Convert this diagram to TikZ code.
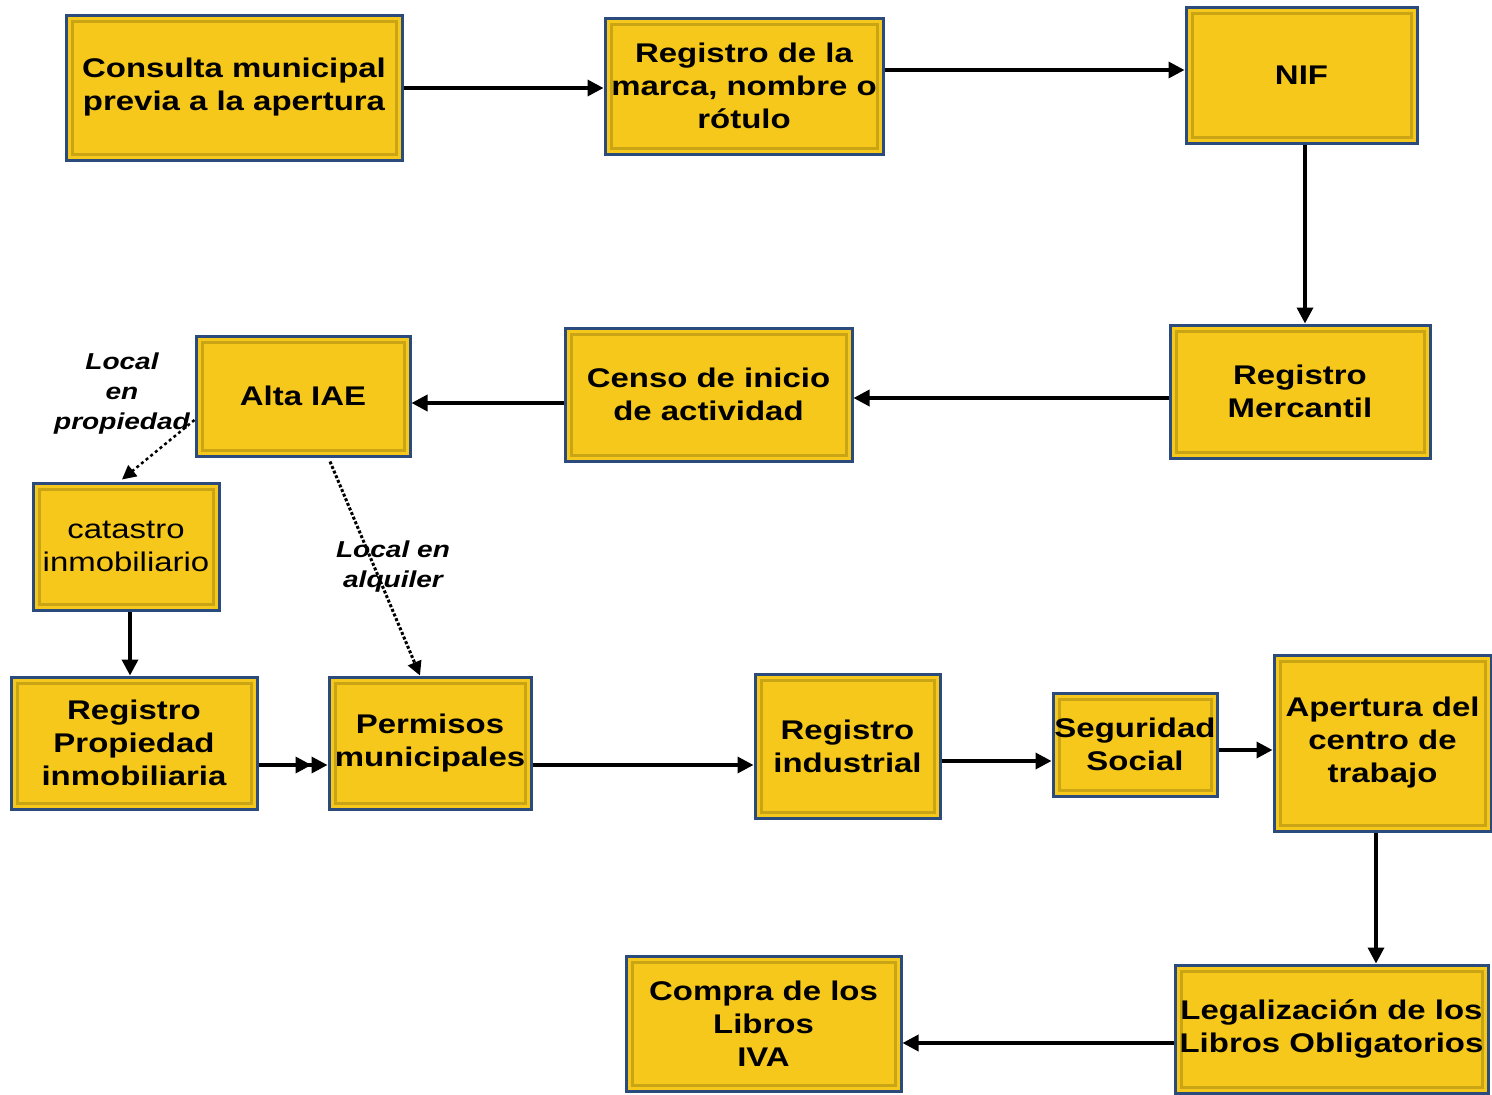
\documentclass[tikz,border=0pt]{standalone}
\usepackage{fontspec}
\setmainfont{Liberation Sans}
\newfontfamily\wideface[FakeStretch=1.22]{Liberation Sans}
\usetikzlibrary{arrows.meta,calc}
\definecolor{boxfill}{HTML}{F6C81C}
\definecolor{boxedge}{HTML}{2B4B7C}
\definecolor{goldedge}{HTML}{C9A414}
\tikzset{
  box/.style={fill=boxfill, draw=boxedge, line width=3pt, align=center,
    font=\wideface\bfseries\fontsize{27}{33}\selectfont, inner sep=0pt,
    path picture={\draw[goldedge, line width=3pt]
      ([shift={(6pt,-6pt)}]path picture bounding box.north west) rectangle
      ([shift={(-6pt,6pt)}]path picture bounding box.south east);}},
  conn/.style={line width=3.5pt, -{Triangle[length=16pt,width=16pt]}},
  dconn/.style={line width=2.5pt, dashed, -{Triangle[length=14pt,width=14pt]}},
  tconn/.style={line width=3pt, dotted, -{Triangle[length=14pt,width=14pt]}},
  lbl/.style={font=\wideface\bfseries\itshape\fontsize{23}{30}\selectfont, align=center}
}
\begin{document}
\begin{tikzpicture}[x=1pt,y=1pt]
\useasboundingbox (0,0) rectangle (1492,-1095);
\node[box, minimum width=336, minimum height=145] (consulta) at (234,-87.5) {Consulta municipal\\previa a la apertura};
\node[box, minimum width=278, minimum height=136] (marca) at (744,-86) {Registro de la\\marca, nombre o\\rótulo};
\node[box, minimum width=231, minimum height=136] (nif) at (1301.5,-75) {NIF};
\node[box, minimum width=260, minimum height=133] (mercantil) at (1300,-391.5) {Registro\\Mercantil};
\node[box, minimum width=287, minimum height=133] (censo) at (708.5,-394.5) {Censo de inicio\\de actividad};
\node[box, minimum width=214, minimum height=120] (alta) at (303,-396) {Alta IAE};
\node[box, minimum width=186, minimum height=127, font=\wideface\fontsize{27}{33}\selectfont] (catastro) at (126,-546.5) {catastro\\inmobiliario};
\node[box, minimum width=246, minimum height=132] (regprop) at (134,-743) {Registro\\Propiedad\\inmobiliaria};
\node[box, minimum width=202, minimum height=132] (permisos) at (430,-743) {Permisos\\municipales};
\node[box, minimum width=185, minimum height=144] (regind) at (847.5,-746) {Registro\\industrial};
\node[box, minimum width=164, minimum height=103] (segsoc) at (1135,-744.5) {Seguridad\\Social};
\node[box, minimum width=217, minimum height=176] (apertura) at (1382.5,-743) {Apertura del\\centro de\\trabajo};
\node[box, minimum width=313, minimum height=128] (legal) at (1331.5,-1029) {Legalización de los\\Libros Obligatorios};
\node[box, minimum width=275, minimum height=135] (compra) at (763.5,-1023.5) {Compra de los\\Libros\\IVA};

\node[lbl] (lprop) at (122,-394) {Local\\en\\propiedad};
\node[lbl] (lalq) at (393,-567) {Local en\\alquiler};

\draw[conn] (consulta.east |- 0,-88) -- (marca.west |- 0,-88);
\draw[conn] (marca.east |- 0,-70) -- (nif.west |- 0,-70);
\draw[conn] (nif.south -| 1305,0) -- (mercantil.north -| 1305,0);
\draw[conn] (mercantil.west |- 0,-398) -- (censo.east |- 0,-398);
\draw[conn] (censo.west |- 0,-403) -- (alta.east |- 0,-403);
\draw[dconn] (alta.west |- 0,-420) -- ($(catastro.north)+(-4,2)$);
\draw[tconn] ($(alta.south)+(27,-4)$) -- ($(permisos.north)+(-10,0)$);
\draw[conn] (catastro.south -| 130,0) -- (regprop.north -| 130,0);
\draw[line width=3.5pt, -{Triangle[length=16pt,width=16pt]Triangle[length=16pt,width=16pt]}] (regprop.east |- 0,-765) -- (permisos.west |- 0,-765);
\draw[conn] (permisos.east |- 0,-765) -- (regind.west |- 0,-765);
\draw[conn] (regind.east |- 0,-761) -- (segsoc.west |- 0,-761);
\draw[conn] (segsoc.east |- 0,-750) -- (apertura.west |- 0,-750);
\draw[conn] (apertura.south -| 1376,0) -- (legal.north -| 1376,0);
\draw[conn] (legal.west |- 0,-1043) -- (compra.east |- 0,-1043);
\end{tikzpicture}
\end{document}
